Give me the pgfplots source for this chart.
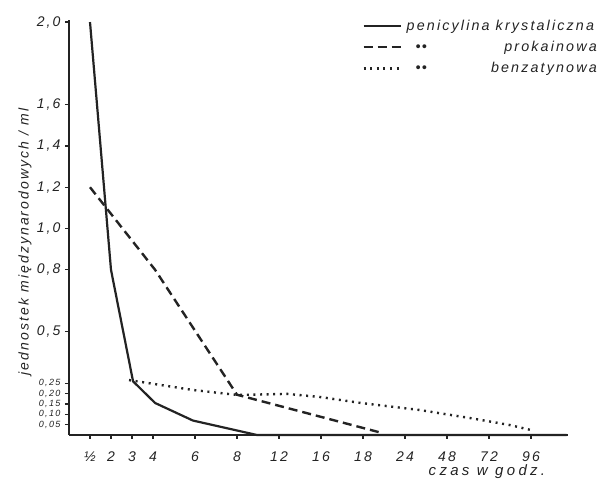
\documentclass[border=0pt]{standalone}
\usepackage{fontspec}
\setmainfont{Liberation Sans}
\newfontfamily\hand[LetterSpace=15]{Liberation Sans}
\newfontfamily\handw[LetterSpace=22]{Liberation Sans}
\usepackage{pgfplots}
\pgfplotsset{compat=1.18}
\definecolor{ink}{RGB}{35,35,35}

% x axis is not to scale: ticks are placed at positions 0,1,2,3,5,7,...,21
\begin{document}
\begin{tikzpicture}[x=1pt,y=1pt]
\useasboundingbox (-69,-51) rectangle (533,435);
\begin{axis}[
  at={(0,0)}, anchor=south west,
  scale only axis, width=499pt, height=415pt,
  xmin=-1, xmax=22.76, ymin=0, ymax=2.01,
  axis x line=bottom, axis y line=left,
  axis line style={-, line width=1.6pt, ink},
  tick style={line width=1.2pt, ink},
  tick align=outside, major tick length=4pt,
  xtick={0,1,2,3,5,7,9,11,13,15,17,19,21},
  xticklabels={½,2,3,4,6,8,12,16,18,24,48,72,96},
  ytick={0.05,0.10,0.15,0.20,0.25,0.5,0.8,1.0,1.2,1.4,1.6,2.0},
  yticklabels={{\fontsize{9}{9}\selectfont 0,05},{\fontsize{9}{9}\selectfont 0,10},{\fontsize{9}{9}\selectfont 0,15},{\fontsize{9}{9}\selectfont 0,20},{\fontsize{9}{9}\selectfont 0,25},
               {0,5},{0,8},{1,0},{1,2},{1,4},{1,6},{2,0}},
  ticklabel style={font=\hand\itshape\fontsize{14}{14}\selectfont, text=ink},
  yticklabel style={xshift=-1pt},
  xticklabel style={yshift=-9pt},
  legend style={at={(rel axis cs:1.062,1.006)}, anchor=north east, draw=none, fill=none,
    font=\hand\itshape\fontsize{14.3}{14.3}\selectfont, text=ink, row sep=5.5pt, inner sep=0pt},
  legend image code/.code={\draw[#1] (0pt,0pt) -- (37pt,0pt);},
  legend cell align=left,
  clip=false,
]
\addplot[ink, line width=2.2pt] coordinates {
  (0,2.0) (1,0.80) (2.05,0.26) (3.1,0.155) (4.9,0.07) (7.95,0.0) (22.7,0.0)};
\addlegendentry{\makebox[193pt][l]{\hspace{3pt}penicylina krystaliczna}}
\addplot[ink, line width=2.4pt, dash pattern=on 9pt off 5pt] coordinates {
  (0,1.2) (3.1,0.80) (7,0.195) (13.9,0.01)};
\addlegendentry{\makebox[193pt][l]{\hspace{12pt}{\Large\textbullet\hspace{1pt}\textbullet}\hfill prokainowa}}
\addplot[ink, line width=2.4pt, dash pattern=on 2pt off 4.6pt] coordinates {
  (1.86,0.266) (4.9,0.218) (7,0.194) (9.4,0.199) (10.95,0.184) (12.9,0.155)
  (15.7,0.121) (18.1,0.082) (20,0.048) (21,0.024)};
\addlegendentry{\makebox[193pt][l]{\hspace{12pt}{\Large\textbullet\hspace{1pt}\textbullet}\hfill benzatynowa}}
\node[rotate=90, font=\hand\itshape\fontsize{14}{14}\selectfont, text=ink]
  at ([xshift=-44pt]rel axis cs:0,0.465) {jednostek międzynarodowych / ml};
\node[font=\handw\itshape\fontsize{15}{15}\selectfont, text=ink]
  at ([yshift=-37pt]axis cs:18.9,0) {czas w godz.};
\end{axis}
\end{tikzpicture}
\end{document}
